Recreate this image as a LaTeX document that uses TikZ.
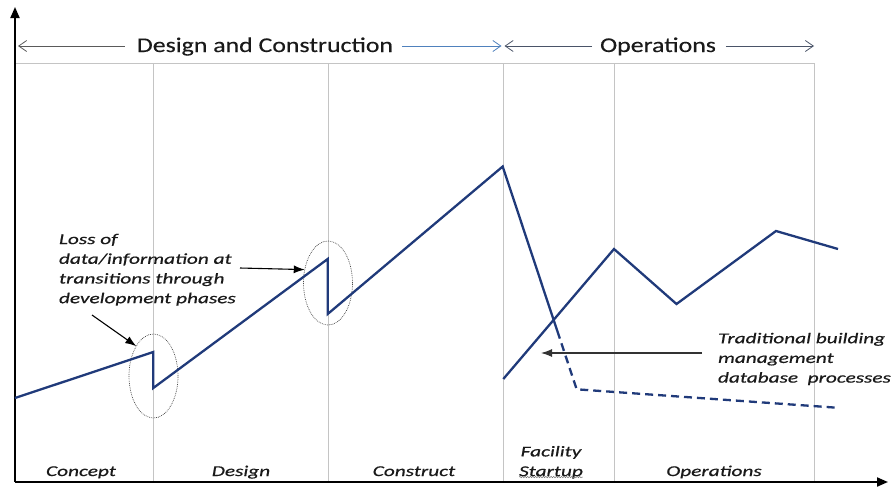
\documentclass[tikz,border=0pt]{standalone}
\usepackage{fontspec}
\setmainfont{Carlito}
\newfontfamily\topfont[FakeStretch=1.23,FakeBold=0.3]{Carlito}
\newfontfamily\labfont[FakeStretch=1.42,FakeBold=0.6]{Carlito}
\usetikzlibrary{arrows.meta,shapes.geometric,decorations.pathmorphing}
\definecolor{navy}{HTML}{203A7A}
\definecolor{gridgray}{HTML}{C4C4C4}
\definecolor{txt}{HTML}{1A1A1A}
\definecolor{phblue}{HTML}{4F81BD}
\definecolor{phgray}{HTML}{5A5A5A}
\definecolor{phdark}{HTML}{4A5468}
\begin{document}
\begin{tikzpicture}[x=1pt,y=-1pt,
  every node/.style={inner sep=0pt,outer sep=0pt,text=txt},
  axis/.style={line width=2pt,black,-{Triangle[length=11pt,width=9pt]}},
  gridln/.style={draw=gridgray,line width=0.9pt},
  phase/.style={line width=0.8pt,-{Straight Barb[length=8pt,width=11pt]}},
  toptext/.style={font=\topfont\fontsize{21}{24}\selectfont,anchor=base},
  lab/.style={font=\labfont\itshape\fontsize{15}{19.7}\selectfont},
  curve/.style={draw=navy,line width=2.3pt,line join=miter},
  dashcurve/.style={draw=navy,line width=2.3pt,dash pattern=on 8pt off 5pt},
  loss/.style={ellipse,draw=black!70,dash pattern=on 0.8pt off 1pt,line width=0.7pt,minimum width=49pt,minimum height=84pt},
  note/.style={line width=1.1pt,-{Latex[length=11pt,width=8pt]}},
  wave/.style={draw=black!55,line width=0.5pt,decorate,decoration={snake,amplitude=0.7pt,segment length=2.6pt}}
]
\useasboundingbox (0,0) rectangle (896,488);

% grid
\draw[gridln] (15,63.3) -- (814,63.3);
\foreach \gx in {153.3,328.3,503.3,614.7,814}
  \draw[gridln] (\gx,63.3) -- (\gx,482);

% axes
\coordinate (O) at (15,482);
\coordinate (ytip) at (15,7);
\coordinate (xtip) at (888,482);
\draw[axis] (O) -- (ytip);
\draw[axis] (O) -- (xtip);

% top phase arrows
\node[toptext] (dc) at (265,52) {Design and Construction};
\node[toptext] (ops) at (658,52) {Operations};
\coordinate (dcL) at (18,46);
\coordinate (dcR) at (501.5,46);
\coordinate (opL) at (504.5,46);
\coordinate (opR) at (814,46);
\draw[phase,draw=phgray] (dc.west |- dcL) ++(-12,0) -- (dcL);
\draw[phase,draw=phblue] (dc.east |- dcR) ++(9,0) -- (dcR);
\draw[phase,draw=phdark] (ops.west |- opL) ++(-8,0) -- (opL);
\draw[phase,draw=phdark] (ops.east |- opR) ++(10,0) -- (opR);

% ellipses
\node[loss] (e1) at (153.5,376) {};
\node[loss] (e2) at (328,283) {};

% main curve
\coordinate (p0) at (15,398);
\coordinate (p1) at (153.3,352);
\coordinate (p2) at (153.3,388);
\coordinate (p3) at (327.7,259);
\coordinate (p4) at (327.7,314);
\coordinate (p5) at (502.7,166.5);
\coordinate (p6) at (557.3,331);
\coordinate (p7) at (576.7,389.3);
\coordinate (p8) at (836.7,407.7);
\draw[curve] (p0) -- (p1) -- (p2) -- (p3) -- (p4) -- (p5) -- (p6);
\draw[dashcurve] (p6) -- (p7) -- (p8);

% operations curve
\coordinate (q0) at (503.3,379);
\coordinate (q1) at (614,249);
\coordinate (q2) at (676.5,304);
\coordinate (q3) at (776,231);
\coordinate (q4) at (838,249);
\draw[curve] (q0) -- (q1) -- (q2) -- (q3) -- (q4);

% annotations
\node[lab,align=left,anchor=north west] (losstxt) at (59,233.8)
  {Loss of\\data/information at\\transitions through\\development phases};
\coordinate (a1) at (92,315);
\coordinate (a2) at (240,268);
\draw[note] (a1) -- (e1.120);
\draw[note] (a2) -- (e2.150);

\node[lab,align=left,anchor=north west] (trad) at (718,332.8)
  {Traditional building\\management\\database\ \ processes};
\coordinate (t1) at (702,353);
\coordinate (t2) at (541,353);
\draw[note,draw=black!80] (t1) -- (t2);

% phase labels
\node[lab,anchor=base] (concept) at (81,476) {Concept};
\node[lab,anchor=base] (design) at (241,476) {Design};
\node[lab,anchor=base] (construct) at (414,476) {Construct};
\node[lab,anchor=base] (operations) at (714,476) {Operations};
\node[lab,align=center,anchor=north] (fs) at (551,446) {Facility\\Startup};
\draw[wave] ([yshift=1.5pt]fs.south west) -- ([yshift=1.5pt]fs.south east);
\end{tikzpicture}
\end{document}
